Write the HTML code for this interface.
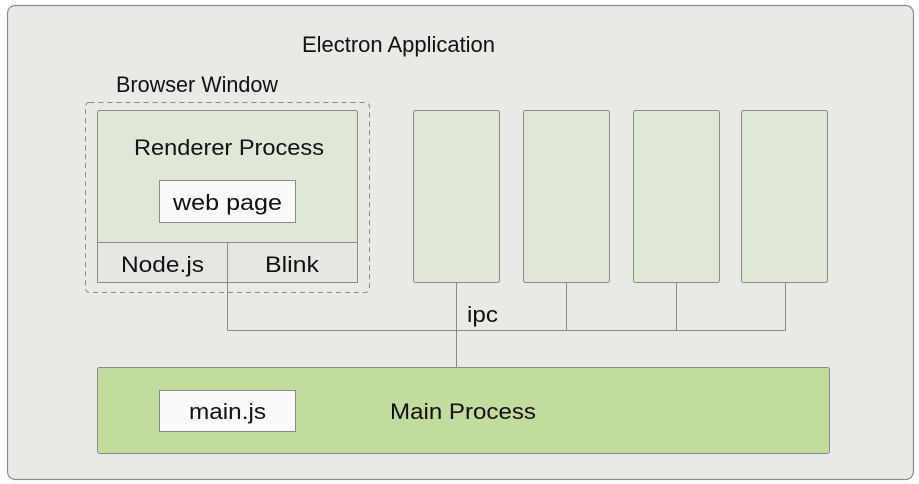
<!DOCTYPE html>
<html><head><meta charset="utf-8"><style>
html,body{margin:0;padding:0;background:#fff;width:919px;height:484px;overflow:hidden}
svg{display:block}
text{font-family:"Liberation Sans",sans-serif;fill:#111}
</style></head><body>
<svg width="919" height="484" viewBox="0 0 919 484">
<rect x="7.5" y="5.5" width="906" height="474" rx="8" fill="#e9eae6" stroke="#8a8a8a" stroke-width="1.2"/>
<text x="302" y="52" font-size="22" textLength="193" lengthAdjust="spacingAndGlyphs">Electron Application</text>
<text x="116" y="92" font-size="22" textLength="162" lengthAdjust="spacingAndGlyphs">Browser Window</text>
<rect x="85.5" y="102.5" width="284" height="190" rx="4" fill="none" stroke="#888" stroke-dasharray="5,4"/>
<rect x="97.5" y="110.5" width="260" height="172" rx="2" fill="#dfe8d6" stroke="#8a8a8a"/>
<rect x="97.5" y="242.5" width="260" height="40" fill="#e6e7e2" stroke="#8a8a8a"/>
<line x1="227.5" y1="242.5" x2="227.5" y2="330.5" stroke="#8a8a8a"/>
<text x="134" y="155" font-size="22" textLength="190" lengthAdjust="spacingAndGlyphs">Renderer Process</text>
<rect x="159.5" y="180.5" width="136" height="42" fill="#fafafa" stroke="#8a8a8a"/>
<text x="173" y="210" font-size="22" textLength="109" lengthAdjust="spacingAndGlyphs">web page</text>
<text x="121" y="272" font-size="22" textLength="83" lengthAdjust="spacingAndGlyphs">Node.js</text>
<text x="265" y="272" font-size="22" textLength="54" lengthAdjust="spacingAndGlyphs">Blink</text>
<g fill="#dfe8d6" stroke="#8a8a8a">
<rect x="413.5" y="110.5" width="86" height="172" rx="2"/>
<rect x="523.5" y="110.5" width="86" height="172" rx="2"/>
<rect x="633.5" y="110.5" width="86" height="172" rx="2"/>
<rect x="741.5" y="110.5" width="86" height="172" rx="2"/>
</g>
<g stroke="#8a8a8a" fill="none">
<line x1="227.5" y1="330.5" x2="785.5" y2="330.5"/>
<line x1="456.5" y1="282.5" x2="456.5" y2="367"/>
<line x1="566.5" y1="282.5" x2="566.5" y2="330.5"/>
<line x1="676.5" y1="282.5" x2="676.5" y2="330.5"/>
<line x1="785.5" y1="282.5" x2="785.5" y2="330.5"/>
</g>
<text x="467" y="322" font-size="22" textLength="31" lengthAdjust="spacingAndGlyphs">ipc</text>
<rect x="97.5" y="367.5" width="732" height="86" rx="2" fill="#c2dc9e" stroke="#8a8a8a"/>
<rect x="159.5" y="390.5" width="136" height="41" fill="#fafafa" stroke="#8a8a8a"/>
<text x="189" y="419" font-size="22" textLength="77" lengthAdjust="spacingAndGlyphs">main.js</text>
<text x="390" y="419" font-size="22" textLength="146" lengthAdjust="spacingAndGlyphs">Main Process</text>
</svg>
</body></html>
